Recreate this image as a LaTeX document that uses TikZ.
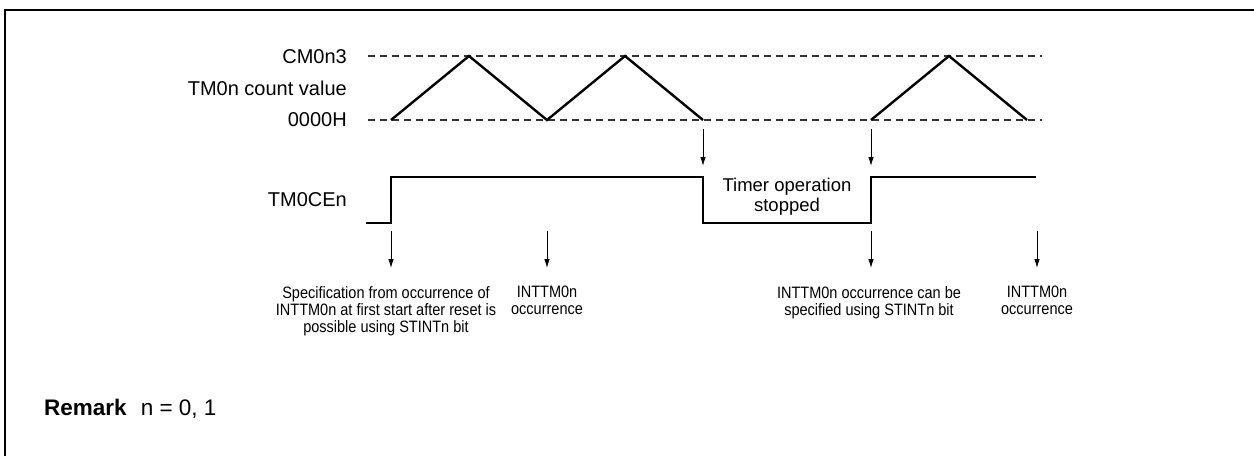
\documentclass[tikz,border=0pt]{standalone}
\usepackage{fontspec}
\setmainfont{Liberation Sans}
\newfontfamily\narrowfont[FakeStretch=0.88]{Liberation Sans}
\usetikzlibrary{arrows.meta}
\begin{document}
\begin{tikzpicture}[x=1pt,y=-1pt,
  sigline/.style={line width=2.6pt, line join=miter},
  triline/.style={line width=2.4pt, line join=miter},
  dashline/.style={line width=1.1pt, dash pattern=on 7pt off 5pt, draw=black!80},
  arr/.style={line width=0.9pt, -{Latex[length=9pt,width=5.5pt]}},
  lbl/.style={font=\fontsize{20}{24}\selectfont, anchor=east, inner sep=0pt},
  note/.style={font=\narrowfont\fontsize{16.5}{17}\selectfont, align=center, anchor=north, inner sep=0pt},
]
\useasboundingbox (0,0) rectangle (1254,456);
\draw[line width=2pt] (5,456) -- (5,10) -- (1254,10);

% labels
\node[lbl] (lcm) at (347,57) {CM0n3};
\node[lbl] (lcv) at (347,88) {TM0n count value};
\node[lbl] (lzero) at (347,120) {0000H};
\node[lbl] (lce) at (347,200) {TM0CEn};

% dashed reference lines
\coordinate (dt0) at (368,56);
\coordinate (dt1) at (1042,56);
\coordinate (db0) at (368,120);
\coordinate (db1) at (1042,120);
\draw[dashline] (dt0) -- (dt1);
\draw[dashline] (db0) -- (db1);

% triangular count
\coordinate (c1) at (391,120);
\coordinate (c2) at (469,56);
\coordinate (c3) at (547,120);
\coordinate (c4) at (625,56);
\coordinate (c5) at (703,120);
\coordinate (c6) at (871,120);
\coordinate (c7) at (949,56);
\coordinate (c8) at (1027,120);
\draw[triline] (c1) -- (c2) -- (c3) -- (c4) -- (c5);
\draw[triline] (c6) -- (c7) -- (c8);

% TM0CEn signal
\coordinate (s0) at (366,223);
\coordinate (s1) at (391,223);
\coordinate (s2) at (391,177);
\coordinate (s3) at (703,177);
\coordinate (s4) at (703,223);
\coordinate (s5) at (871,223);
\coordinate (s6) at (871,177);
\coordinate (s7) at (1036,177);
\draw[sigline] (s0) -- (s1) -- (s2) -- (s3) -- (s4) -- (s5) -- (s6) -- (s7);

% upper arrows
\coordinate (ua1) at (703,129);
\coordinate (ub1) at (703,166);
\coordinate (ua2) at (871,129);
\coordinate (ub2) at (871,166);
\draw[arr] (ua1) -- (ub1);
\draw[arr] (ua2) -- (ub2);

% lower arrows
\coordinate (la1) at (391,231);
\coordinate (lb1) at (391,268);
\coordinate (la2) at (547,231);
\coordinate (lb2) at (547,268);
\coordinate (la3) at (871,231);
\coordinate (lb3) at (871,268);
\coordinate (la4) at (1037,231);
\coordinate (lb4) at (1037,268);
\draw[arr] (la1) -- (lb1);
\draw[arr] (la2) -- (lb2);
\draw[arr] (la3) -- (lb3);
\draw[arr] (la4) -- (lb4);

\node[font=\fontsize{18.5}{20}\selectfont, align=center, inner sep=0pt] (stop) at (787,197) {Timer operation\\stopped};

\node[note] (n1) at (386,286) {Specification from occurrence of\\INTTM0n at first start after reset is\\possible using STINTn bit};
\node[note] (n2) at (547,286) {INTTM0n\\occurrence};
\node[note] (n3) at (869,286) {INTTM0n occurrence can be\\specified using STINTn bit};
\node[note] (n4) at (1037,286) {INTTM0n\\occurrence};

\node[font=\fontsize{22.5}{26}\selectfont, anchor=west, inner sep=0pt] (rem) at (44,409) {\textbf{Remark}\hspace{14pt}n = 0, 1};
\end{tikzpicture}
\end{document}
